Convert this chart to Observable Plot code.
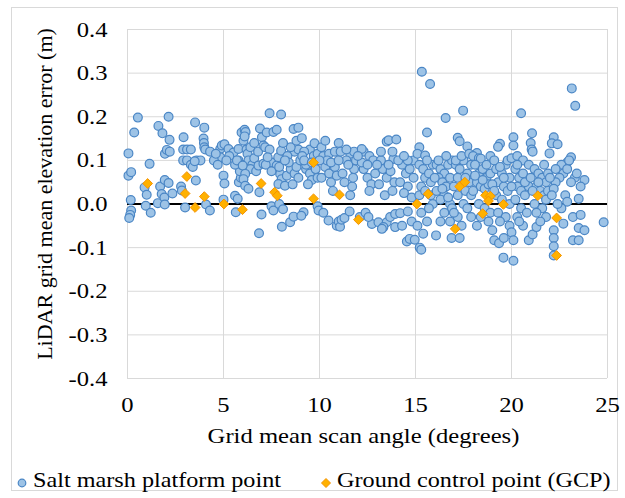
<!DOCTYPE html>
<html>
<head>
<meta charset="utf-8">
<script src="https://cdn.jsdelivr.net/npm/d3@7"></script>
<script src="https://cdn.jsdelivr.net/npm/@observablehq/plot@0.6"></script>
<style>
  html, body { margin: 0; padding: 0; background: #fff; }
  body { width: 625px; height: 498px; position: relative; overflow: hidden;
         font-family: "Liberation Serif", "Times New Roman", serif; }
  #frame { position: absolute; left: 11px; top: 7px; width: 607px; height: 484px;
           border: 1px solid #d9d9d9; box-sizing: border-box; }
  #chart { position: absolute; left: 0; top: 0; }
  #legend { position: absolute; left: 0; top: 467px; width: 625px; height: 30px;
            font-size: 22px; color: #000; }
  #legend span, #legend svg { position: absolute; }
  #legend span { transform: scaleX(1.1); transform-origin: 0 50%; white-space: nowrap; }
</style>
</head>
<body>
<div id="frame"></div>
<div id="chart"></div>
<div id="legend"></div>
<script>
// ---------- data ----------
const xLabel = "Grid mean scan angle (degrees)";
const yLabel = "LiDAR grid mean elevation error (m)";
const seriesNames = ["Salt marsh platform point", "Ground control point (GCP)"];
const xTicks = [0, 5, 10, 15, 20, 25];
const yTicks = [-0.4, -0.3, -0.2, -0.1, 0.0, 0.1, 0.2, 0.3, 0.4];

// Salt marsh platform points: [scan angle (deg), elevation error (m)]
const saltMarsh = [
  [0.05,0.116],[0.05,0.065],[0.19,0.073],[0.35,0.164],[0.54,0.198],[0.17,0.009],[0.19,-0.015],[0.14,-0.025],[0.09,-0.032],[0.89,0.038],[1.0,0.021],[0.95,-0.004],
  [1.15,0.092],[1.21,-0.02],[1.58,0.002],[1.61,0.179],[1.82,0.162],[1.7,0.04],[1.94,0.055],[1.78,0.023],[1.92,0.015],[1.94,-0.001],[1.95,0.115],
  [2.14,0.2],[2.19,0.147],[2.05,0.124],[2.2,0.12],[2.14,0.048],[2.34,0.024],[2.79,0.04],[2.83,0.031],[2.92,0.153],[2.9,0.125],[2.9,0.1],[3.0,-0.008],
  [3.1,0.125],[3.3,0.125],[3.1,0.1],[3.52,0.187],[3.6,0.1],[3.8,0.1],[3.56,0.054],[3.3,0.09],[3.4,0.085],[3.5,0.098],[3.96,0.15],[3.98,0.14],[4.0,0.13],[4.05,0.125],[4.0,0.175],
  [4.09,-0.001],[4.29,-0.015],[4.83,0.126],[4.91,0.134],[4.83,0.107],[5.0,0.065],[5.05,0.047],[5.0,0.01],[4.5,0.1],[4.7,0.09],[4.3,0.12],[4.6,0.115],
  [5.05,0.137],[5.26,0.126],[5.52,0.118],[5.78,0.126],[6.04,0.145],[5.94,0.164],[5.78,0.1],[5.6,0.019],[5.74,0.012],[5.64,-0.019],[5.8,0.05],[5.9,0.06],[5.85,0.075],[5.95,0.09],[5.6,0.09],[5.7,0.1],[5.3,0.11],[5.15,0.1],
  [6.1,0.17],[6.15,0.165],[6.1,0.155],[6.2,0.125],[6.25,0.115],[6.9,0.173],[7.0,0.153],[6.85,-0.067],[6.98,-0.024],[6.3,0.1],[6.5,0.09],[6.6,0.105],[6.4,0.08],[6.7,0.075],
  [6.0,0.088],[6.13,0.069],[6.04,0.057],[6.13,0.042],[6.3,0.035],[6.82,0.088],[7.08,0.092],[7.5,0.095],[7.77,0.088],[7.95,0.069],[8.03,0.057],[8.3,0.065],[7.86,0.046],[8.2,0.042],[6.87,0.027],
  [6.4,0.13],[6.6,0.14],[6.8,0.12],[7.2,0.09],[7.5,0.075],[7.9,0.085],
  [7.25,0.164],[7.4,0.208],[7.6,0.165],[7.77,0.17],[8.0,0.205],[7.08,0.134],[7.17,0.13],[7.4,0.125],[7.3,0.107],[7.85,0.107],[8.0,0.122],[7.5,-0.005],[7.6,-0.015],[7.9,0.0],[8.1,-0.012],[8.04,-0.052],
  [8.65,0.172],[8.9,0.175],[8.7,0.12],[8.9,0.125],[8.33,0.11],[8.47,-0.042],[8.65,-0.029],[9.17,-0.019],[9.05,-0.027],[8.5,0.08],[8.7,0.07],[8.9,0.06],[8.6,0.045],[8.8,0.085],[9.0,0.1],[8.4,0.095],
  [8.2,0.1],[8.5,0.13],[8.1,0.14],[8.8,0.145],
  [9.08,0.151],[9.5,0.125],[9.2,0.12],[9.1,0.11],[9.74,0.139],[9.7,0.11],[9.9,0.115],[9.3,0.08],[9.5,0.07],[9.6,0.055],[9.9,0.06],[9.4,0.045],[9.9,-0.005],[9.95,-0.015],[9.3,0.09],[9.2,0.1],[9.6,0.095],[9.8,0.08],
  [10.2,0.11],[10.5,0.115],[10.8,0.12],[10.2,-0.02],[10.47,-0.038],[10.9,-0.05],[11.0,-0.04],[10.3,0.085],[10.5,0.07],[10.6,0.05],[10.8,0.085],[10.4,0.1],[10.1,0.06],[10.9,0.065],[10.7,0.03],
  [10.0,0.1],[10.1,0.13],[10.3,0.145],[10.6,0.095],[11.0,0.14],
  [11.6,0.115],[11.8,0.12],[11.4,0.1],[11.6,0.02],[11.7,0.04],[11.75,0.06],[11.8,0.08],[11.07,-0.052],[11.15,-0.036],[11.3,-0.032],[11.57,-0.017],[11.2,0.07],[11.5,0.09],[11.9,0.1],[11.3,0.05],[11.0,0.1],[11.1,0.12],[11.4,0.125],
  [12.3,0.12],[12.2,0.126],[12.6,0.11],[12.8,0.1],[12.1,-0.03],[12.4,-0.02],[12.3,0.08],[12.5,0.06],[12.7,0.045],[12.9,0.07],[12.2,0.095],[12.6,0.03],[12.73,-0.046],[12.55,-0.03],[12.0,0.11],[12.5,0.09],
  [13.2,0.1],[13.5,0.143],[13.6,0.146],[14.0,0.148],[13.85,0.103],[13.3,0.08],[13.5,0.06],[13.7,0.075],[13.9,0.05],[13.1,0.045],[13.4,0.02],[13.8,0.03],[13.07,-0.042],[13.5,-0.042],[13.68,-0.03],[13.94,-0.023],[13.33,-0.053],[13.25,-0.057],[13.94,-0.053],[13.6,0.09],[13.0,0.09],[13.2,0.12],[13.8,0.12],
  [14.2,-0.021],[14.6,-0.017],[14.55,-0.086],[14.7,-0.08],[14.96,-0.082],[14.3,0.09],[14.5,0.07],[14.7,0.08],[14.2,0.05],[14.6,0.04],[14.9,0.06],[14.4,0.025],[14.8,0.015],[14.9,0.1],[14.1,0.1],[14.6,0.1],[14.4,0.11],[14.8,-0.04],[14.3,-0.05],
  [15.33,0.303],[15.76,0.275],[15.6,0.164],[15.2,0.13],[15.1,0.115],[15.5,0.111],[15.22,-0.1],[15.3,-0.105],[15.4,-0.068],[15.3,-0.02],[15.2,0.09],[15.4,0.08],[15.5,0.06],[15.7,0.07],[15.3,0.04],[15.8,0.05],[15.9,0.09],[15.6,0.1],[15.2,0.02],[15.9,0.0],[15.7,-0.01],[15.5,0.03],[15.8,0.02],[15.6,-0.04],[15.1,-0.05],
  [16.57,0.197],[16.07,-0.072],[16.3,-0.04],[16.8,-0.04],[16.88,-0.078],[16.1,0.09],[16.3,0.08],[16.5,0.07],[16.7,0.09],[16.2,0.06],[16.4,0.05],[16.6,0.04],[16.8,0.06],[16.9,0.1],[16.1,0.03],[16.5,0.02],[16.8,0.0],[16.3,0.01],[16.9,-0.01],[16.6,0.11],[16.0,0.06],[16.2,0.1],[16.4,0.035],[16.7,0.015],[16.5,-0.02],
  [17.48,0.214],[17.2,0.152],[17.3,0.144],[17.7,0.132],[17.3,-0.078],[17.2,-0.03],[17.4,-0.05],[17.1,0.09],[17.3,0.08],[17.5,0.1],[17.7,0.07],[17.9,0.09],[17.2,0.06],[17.6,0.03],[17.8,0.05],[17.9,0.02],[17.5,0.0],[17.7,-0.01],[17.9,-0.03],[17.1,0.1],[17.4,0.11],[17.8,0.115],[17.0,0.04],[17.2,0.02],[17.6,0.06],[17.0,-0.02],
  [18.2,0.117],[18.0,0.11],[18.3,0.105],[18.4,0.104],[18.9,0.11],[18.1,0.09],[18.3,0.07],[18.5,0.08],[18.7,0.06],[18.9,0.07],[18.2,0.05],[18.4,0.04],[18.6,0.035],[18.8,0.045],[18.3,0.0],[18.6,-0.01],[18.8,-0.04],[18.9,-0.02],[18.2,-0.05],[18.0,0.03],[18.1,0.065],[18.5,0.055],[18.7,0.09],[18.4,-0.03],
  [19.1,0.1],[19.4,0.138],[19.3,0.131],[19.1,-0.083],[19.35,-0.09],[19.6,-0.078],[19.58,-0.123],[19.2,0.08],[19.5,0.07],[19.7,0.09],[19.9,0.06],[19.3,0.05],[19.6,0.04],[19.8,0.03],[19.2,0.02],[19.5,0.01],[19.9,0.0],[19.3,-0.02],[19.7,-0.03],[19.9,-0.05],[19.4,-0.04],[19.8,0.1],[19.0,0.045],[19.1,0.03],[19.4,0.085],[19.6,0.06],[19.0,-0.06],
  [20.0,0.105],[20.1,0.153],[20.1,0.134],[20.5,0.208],[20.3,0.11],[20.6,0.1],[20.1,-0.13],[20.0,-0.065],[20.1,-0.083],[20.9,-0.083],[20.2,0.08],[20.4,0.06],[20.6,0.07],[20.8,0.05],[20.3,0.04],[20.5,0.03],[20.7,0.02],[20.9,0.04],[20.2,0.01],[20.5,-0.01],[20.8,-0.02],[20.3,-0.03],[20.6,-0.05],[20.9,0.09],[20.0,0.04],[20.3,0.09],[20.7,0.05],[20.4,-0.04],
  [21.07,0.162],[21.0,0.14],[21.05,0.125],[21.1,0.12],[21.98,0.116],[21.1,-0.07],[21.3,-0.053],[21.2,0.08],[21.4,0.07],[21.6,0.06],[21.8,0.05],[21.3,0.04],[21.5,0.03],[21.7,0.02],[21.9,0.03],[21.2,0.0],[21.6,-0.01],[21.8,-0.03],[21.5,-0.04],[21.9,0.07],[21.7,0.09],[21.0,0.06],[21.1,0.03],[21.4,0.05],[21.8,0.01],[21.3,-0.02],
  [22.2,0.153],[22.1,0.139],[22.4,0.137],[22.9,0.095],[22.2,-0.06],[22.2,-0.078],[22.2,-0.097],[22.2,-0.118],[22.7,-0.045],[22.8,0.02],[22.9,0.005],[22.6,-0.01],[22.6,0.09],[22.7,0.07],[22.5,0.06],[22.3,0.05],[22.2,0.035],[22.9,0.08],[22.4,0.0],[22.0,0.06],[22.1,0.02],[22.3,0.08],
  [23.14,0.265],[23.32,0.225],[23.1,0.107],[23.0,0.1],[23.2,-0.083],[23.5,-0.083],[23.5,-0.055],[23.8,-0.06],[24.8,-0.042],[23.2,-0.03],[23.6,-0.025],[23.5,0.012],[23.3,0.06],[23.8,0.055],[23.6,0.04],[23.1,0.05],[23.4,0.07]
];

// Ground control points: [scan angle (deg), elevation error (m)]
const gcp = [
  [1.05,0.047],[3.09,0.063],[3.0,0.024],[3.52,-0.008],[4.0,0.017],[5.02,0.0],[5.99,-0.013],
  [6.96,0.047],[7.66,0.027],[7.8,0.019],[9.69,0.095],[9.69,0.012],[11.04,0.021],[12.03,-0.036],
  [15.07,0.0],[15.66,0.023],[17.3,0.04],[17.57,0.05],[17.07,-0.057],[18.5,-0.022],
  [18.65,0.02],[18.9,0.018],[18.8,0.007],[19.58,-0.001],[21.37,0.019],[22.35,-0.032],[22.35,-0.118]
];

// ---------- styles ----------
const FONT = "'Liberation Serif', 'Times New Roman', serif";
const STRETCH = 1.12;   // horizontal widening of the reference's text
const blueFill = "#9dc3e6", blueStroke = "#4a86c5";
const orangeFill = "#ffb100", orangeStroke = "#f59300";
const gridColor = "#d9d9d9";

const chart = Plot.plot({
  width: 625,
  height: 458,
  marginLeft: 127,
  marginRight: 18,
  marginTop: 29,
  marginBottom: 80,
  style: { fontFamily: FONT, fontSize: "22px", color: "#000", background: "transparent" },
  x: { domain: [0, 25], ticks: xTicks, label: null },
  y: { domain: [-0.4, 0.4], ticks: yTicks, label: null },
  marks: [
    Plot.gridX(xTicks, { stroke: gridColor, strokeOpacity: 1, strokeWidth: 1 }),
    Plot.gridY(yTicks, { stroke: gridColor, strokeOpacity: 1, strokeWidth: 1 }),
    Plot.axisX(xTicks, { tickSize: 0, tickPadding: 18, fontSize: 22, tickFormat: d => String(d), label: null }),
    Plot.axisY(yTicks, { tickSize: 0, tickPadding: 20, fontSize: 22, tickFormat: d => d.toFixed(1), label: null }),
    Plot.ruleY([0], { stroke: "#000", strokeWidth: 2 }),
    Plot.dot(saltMarsh, { x: d => d[0], y: d => d[1], r: 4.4, fill: blueFill, stroke: blueStroke, strokeWidth: 1.2 }),
    Plot.dot(gcp, { x: d => d[0], y: d => d[1], r: 4.4, symbol: "diamond2", fill: orangeFill, stroke: orangeStroke, strokeWidth: 1 }),
    Plot.text([yLabel], { frameAnchor: "left", textAnchor: "middle", dx: -83, dy: -10, rotate: -90, fontSize: 22, fill: "#000" }),
    Plot.text([xLabel], { frameAnchor: "bottom", textAnchor: "middle", dx: -4, dy: 64, fontSize: 22, fill: "#000" })
  ]
});
// widen horizontal texts around their anchor points (y offsets such as 0.71em are kept)
d3.select(chart).selectAll("text").each(function () {
  const t = this.getAttribute("transform") || "";
  if (t.includes("rotate")) return;
  const xs = this.getAttribute("x");
  const x = xs !== null && isFinite(+xs) ? +xs : 0;
  if (xs !== null && isFinite(+xs)) this.removeAttribute("x");
  this.setAttribute("transform", `${t} translate(${x},0) scale(${STRETCH},1)`);
});
document.getElementById("chart").appendChild(chart);

// ---------- legend ----------
const legend = d3.select("#legend");
const items = [
  { name: seriesNames[0], kind: "circle", mx: 22, tx: 33 },
  { name: seriesNames[1], kind: "diamond", mx: 326, tx: 337 }
];
for (const it of items) {
  const s = legend.append("svg").attr("width", 12).attr("height", 12)
    .style("left", (it.mx - 6) + "px").style("top", "10px");
  if (it.kind === "circle") {
    s.append("circle").attr("cx", 6).attr("cy", 6).attr("r", 3.8)
      .attr("fill", blueFill).attr("stroke", blueStroke).attr("stroke-width", 1.2);
  } else {
    s.append("path").attr("d", "M6,1.5L10.5,6L6,10.5L1.5,6Z")
      .attr("fill", orangeFill).attr("stroke", orangeStroke).attr("stroke-width", 1);
  }
  legend.append("span").text(it.name).style("left", it.tx + "px").style("top", "0px");
}
</script>
</body>
</html>
